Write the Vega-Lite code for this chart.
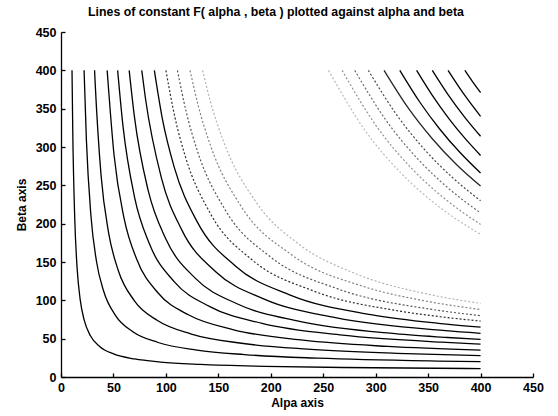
{
  "$schema": "https://vega.github.io/schema/vega-lite/v6.json",
  "width": 472,
  "height": 345,
  "autosize": {"type": "none"},
  "padding": {"left": 61, "top": 32, "right": 25, "bottom": 39},
  "background": "white",
  "config": {"view": {"stroke": null}, "font": "Liberation Sans"},
  "title": {"text": "Lines of constant F( alpha , beta ) plotted against alpha and beta", "fontSize": 12.3, "fontWeight": "bold", "font": "Liberation Sans", "color": "black", "offset": 8, "dx": -21},
  "data": {"values": [
    {"level": 1, "x": 10.5, "y": 400}, {"level": 1, "x": 11.2, "y": 321.7}, {"level": 1, "x": 13.1, "y": 207}, {"level": 1, "x": 15.4, "y": 141.4}, {"level": 1, "x": 18.3, "y": 101}, {"level": 1, "x": 22, "y": 74.8}, {"level": 1, "x": 28.2, "y": 53.4}, {"level": 1, "x": 37.1, "y": 39.5}, {"level": 1, "x": 50.1, "y": 30.1}, {"level": 1, "x": 70.2, "y": 23.5}, {"level": 1, "x": 94.8, "y": 19.5}, {"level": 1, "x": 132.7, "y": 16.4}, {"level": 1, "x": 194.4, "y": 13.9}, {"level": 1, "x": 268.7, "y": 12.4}, {"level": 1, "x": 387, "y": 11.1}, {"level": 1, "x": 400, "y": 11},
    {"level": 2, "x": 22, "y": 400}, {"level": 2, "x": 24.2, "y": 309.6}, {"level": 2, "x": 28.5, "y": 211}, {"level": 2, "x": 33.8, "y": 151}, {"level": 2, "x": 40.7, "y": 111.8}, {"level": 2, "x": 52.2, "y": 79.8}, {"level": 2, "x": 68.5, "y": 59.1}, {"level": 2, "x": 92.6, "y": 45}, {"level": 2, "x": 129.6, "y": 35.1}, {"level": 2, "x": 175, "y": 29.2}, {"level": 2, "x": 245, "y": 24.5}, {"level": 2, "x": 359, "y": 20.8}, {"level": 2, "x": 400, "y": 20},
    {"level": 3, "x": 32, "y": 400}, {"level": 3, "x": 32.5, "y": 385.6}, {"level": 3, "x": 38.2, "y": 263}, {"level": 3, "x": 45.4, "y": 188}, {"level": 3, "x": 54.6, "y": 139}, {"level": 3, "x": 70, "y": 99.4}, {"level": 3, "x": 92, "y": 73.6}, {"level": 3, "x": 124.3, "y": 56}, {"level": 3, "x": 174, "y": 43.7}, {"level": 3, "x": 235, "y": 36.3}, {"level": 3, "x": 329, "y": 30.6}, {"level": 3, "x": 400, "y": 28},
    {"level": 4, "x": 44, "y": 400}, {"level": 4, "x": 50.6, "y": 289.3}, {"level": 4, "x": 60.2, "y": 206.7}, {"level": 4, "x": 72.4, "y": 153}, {"level": 4, "x": 92.8, "y": 109.2}, {"level": 4, "x": 121.9, "y": 80.8}, {"level": 4, "x": 164.7, "y": 61.6}, {"level": 4, "x": 230.7, "y": 48}, {"level": 4, "x": 311.7, "y": 39.9}, {"level": 4, "x": 400, "y": 35},
    {"level": 5, "x": 54, "y": 400}, {"level": 5, "x": 59, "y": 328.6}, {"level": 5, "x": 70.1, "y": 234.7}, {"level": 5, "x": 84.3, "y": 173.7}, {"level": 5, "x": 108.1, "y": 124}, {"level": 5, "x": 141.9, "y": 91.8}, {"level": 5, "x": 191.8, "y": 69.9}, {"level": 5, "x": 268.5, "y": 54.5}, {"level": 5, "x": 362.8, "y": 45.4}, {"level": 5, "x": 400, "y": 43},
    {"level": 6, "x": 65, "y": 400}, {"level": 6, "x": 69.9, "y": 340.6}, {"level": 6, "x": 83.1, "y": 243.3}, {"level": 6, "x": 100, "y": 180}, {"level": 6, "x": 128.2, "y": 128.6}, {"level": 6, "x": 168.3, "y": 95.2}, {"level": 6, "x": 227.4, "y": 72.5}, {"level": 6, "x": 318.4, "y": 56.5}, {"level": 6, "x": 368.6, "y": 51.5}, {"level": 6, "x": 400, "y": 49},
    {"level": 7, "x": 77, "y": 400}, {"level": 7, "x": 80.5, "y": 363.6}, {"level": 7, "x": 95.7, "y": 259.8}, {"level": 7, "x": 115, "y": 192.2}, {"level": 7, "x": 147.5, "y": 137.3}, {"level": 7, "x": 193.7, "y": 101.6}, {"level": 7, "x": 261.7, "y": 77.4}, {"level": 7, "x": 366.4, "y": 60.4}, {"level": 7, "x": 400, "y": 57},
    {"level": 8, "x": 89, "y": 400}, {"level": 8, "x": 96.8, "y": 335.7}, {"level": 8, "x": 108, "y": 273.4}, {"level": 8, "x": 129.9, "y": 202.3}, {"level": 8, "x": 166.5, "y": 144.5}, {"level": 8, "x": 218.6, "y": 106.9}, {"level": 8, "x": 295.4, "y": 81.4}, {"level": 8, "x": 359.8, "y": 70}, {"level": 8, "x": 400, "y": 65},
    {"level": 9, "x": 100, "y": 400}, {"level": 9, "x": 108.6, "y": 338.8}, {"level": 9, "x": 118.5, "y": 287.8}, {"level": 9, "x": 142.5, "y": 213}, {"level": 9, "x": 182.8, "y": 152.1}, {"level": 9, "x": 240, "y": 112.6}, {"level": 9, "x": 324.2, "y": 85.7}, {"level": 9, "x": 369.2, "y": 77.4}, {"level": 9, "x": 400, "y": 73},
    {"level": 10, "x": 111, "y": 400}, {"level": 10, "x": 119.2, "y": 346.8}, {"level": 10, "x": 130.1, "y": 294.6}, {"level": 10, "x": 156.5, "y": 218}, {"level": 10, "x": 200.6, "y": 155.7}, {"level": 10, "x": 263.4, "y": 115.2}, {"level": 10, "x": 356, "y": 87.7}, {"level": 10, "x": 400, "y": 80},
    {"level": 11, "x": 123, "y": 400}, {"level": 11, "x": 130.6, "y": 355.1}, {"level": 11, "x": 142.6, "y": 301.6}, {"level": 11, "x": 171.4, "y": 223.2}, {"level": 11, "x": 219.8, "y": 159.4}, {"level": 11, "x": 288.6, "y": 118}, {"level": 11, "x": 344.4, "y": 99.9}, {"level": 11, "x": 400, "y": 88},
    {"level": 12, "x": 135, "y": 400}, {"level": 12, "x": 142.1, "y": 361}, {"level": 12, "x": 155.1, "y": 306.7}, {"level": 12, "x": 186.6, "y": 226.9}, {"level": 12, "x": 227.2, "y": 172.8}, {"level": 12, "x": 280.8, "y": 134.8}, {"level": 12, "x": 352.9, "y": 107.2}, {"level": 12, "x": 400, "y": 96},
    {"level": 22, "x": 255, "y": 400}, {"level": 22, "x": 290, "y": 321.4}, {"level": 22, "x": 325, "y": 264.8}, {"level": 22, "x": 360, "y": 222.5}, {"level": 22, "x": 400, "y": 186},
    {"level": 23, "x": 268, "y": 400}, {"level": 23, "x": 300, "y": 328.6}, {"level": 23, "x": 335, "y": 271.1}, {"level": 23, "x": 368, "y": 230.2}, {"level": 23, "x": 400, "y": 199},
    {"level": 24, "x": 280, "y": 400}, {"level": 24, "x": 310, "y": 334.6}, {"level": 24, "x": 340, "y": 284.6}, {"level": 24, "x": 370, "y": 245.4}, {"level": 24, "x": 400, "y": 214},
    {"level": 25, "x": 293, "y": 400}, {"level": 25, "x": 320, "y": 342}, {"level": 25, "x": 347, "y": 296.1}, {"level": 25, "x": 374, "y": 259.2}, {"level": 25, "x": 400, "y": 230},
    {"level": 26, "x": 308, "y": 400}, {"level": 26, "x": 331, "y": 351}, {"level": 26, "x": 354, "y": 310.8}, {"level": 26, "x": 377, "y": 277.2}, {"level": 26, "x": 400, "y": 249},
    {"level": 27, "x": 323, "y": 400}, {"level": 27, "x": 342, "y": 358.7}, {"level": 27, "x": 361, "y": 323.5}, {"level": 27, "x": 380, "y": 293.4}, {"level": 27, "x": 400, "y": 266},
    {"level": 28, "x": 339, "y": 400}, {"level": 28, "x": 354, "y": 367.4}, {"level": 28, "x": 370, "y": 336.8}, {"level": 28, "x": 385, "y": 311.5}, {"level": 28, "x": 400, "y": 289},
    {"level": 29, "x": 354, "y": 400}, {"level": 29, "x": 369, "y": 368.4}, {"level": 29, "x": 385, "y": 338.7}, {"level": 29, "x": 400, "y": 314},
    {"level": 30, "x": 369, "y": 400}, {"level": 30, "x": 385, "y": 367.2}, {"level": 30, "x": 400, "y": 340},
    {"level": 31, "x": 385, "y": 400}, {"level": 31, "x": 392, "y": 386}, {"level": 31, "x": 400, "y": 371}
  ]},
  "encoding": {
    "x": {"field": "x", "type": "quantitative", "scale": {"domain": [0, 450], "nice": false, "zero": false},
      "axis": {"title": "Alpa axis", "values": [0, 50, 100, 150, 200, 250, 300, 350, 400, 450], "grid": false, "tickSize": -4, "labelPadding": 8, "labelFlush": false, "domainColor": "black", "tickColor": "black", "labelColor": "black", "titleColor": "black", "labelFontSize": 12.5, "labelFontWeight": "bold", "titleFontSize": 12, "titleFontWeight": "bold", "titlePadding": 4, "labelFont": "Liberation Sans", "titleFont": "Liberation Sans", "domainWidth": 1.3, "tickWidth": 1.3}},
    "y": {"field": "y", "type": "quantitative", "scale": {"domain": [0, 450], "nice": false, "zero": false},
      "axis": {"title": "Beta axis", "values": [0, 50, 100, 150, 200, 250, 300, 350, 400, 450], "grid": false, "tickSize": -4, "labelPadding": 9, "domainColor": "black", "tickColor": "black", "labelColor": "black", "titleColor": "black", "labelFontSize": 12.5, "labelFontWeight": "bold", "titleFontSize": 12, "titleFontWeight": "bold", "titlePadding": 7, "labelFont": "Liberation Sans", "titleFont": "Liberation Sans", "domainWidth": 1.3, "tickWidth": 1.3}},
    "detail": {"field": "level", "type": "nominal"},
    "color": {"field": "level", "type": "quantitative", "legend": null,
      "scale": {"domain": [1, 8, 13, 21, 27, 31], "range": ["#000000", "#000000", "#e6e6e6", "#e6e6e6", "#000000", "#000000"]}}
  },
  "layer": [
    {"transform": [{"filter": "(datum.level <= 8) || (datum.level >= 26)"}],
     "mark": {"type": "line", "interpolate": "monotone", "strokeWidth": 1.3}},
    {"transform": [{"filter": "(datum.level > 8) && (datum.level < 26)"}],
     "mark": {"type": "line", "interpolate": "monotone", "strokeWidth": 1.2, "strokeDash": [2, 2]}}
  ]
}
